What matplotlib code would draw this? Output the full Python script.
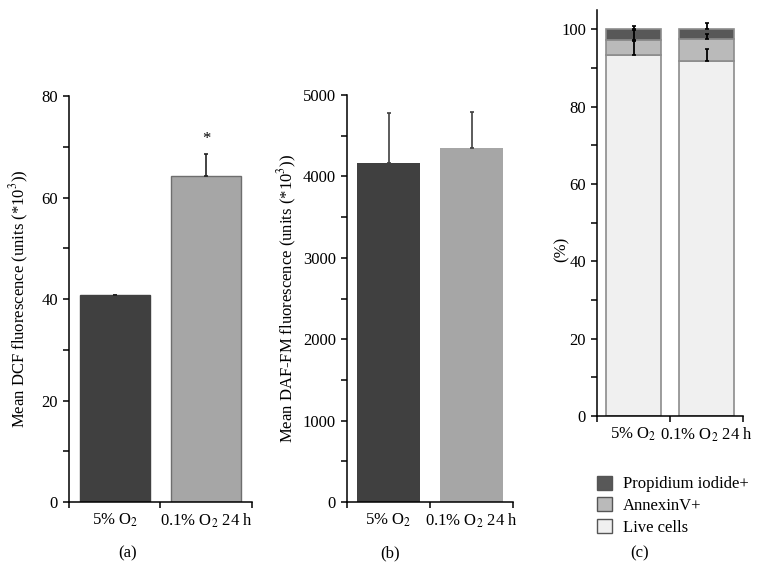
import numpy as np
import matplotlib
matplotlib.use("Agg")
import matplotlib.pyplot as plt
from matplotlib.patches import Patch

plt.rcParams['font.family'] = ['Liberation Serif', 'DejaVu Serif']
plt.rcParams['mathtext.fontset'] = 'stix'
plt.rcParams['font.size'] = 12

# data
groups = ['5% O$_2$', '0.1% O$_2$ 24 h']
dcf = [40.7, 64.2]
dcf_err = [0.15, 4.4]
daf = [4160, 4350]
daf_err = [620, 440]
live = [93.3, 91.7]
annexin = [3.9, 5.9]
pi = [2.8, 2.4]
live_err = [3.6, 3.1]
annexin_err = [2.6, 1.2]
pi_err = [0.9, 1.7]
leg_labels = ['Propidium iodide+', 'AnnexinV+', 'Live cells']

dark = '#404040'
light = '#a6a6a6'
c_pi = '#585858'
c_ann = '#bababa'
c_live = '#f0f0f0'
c_edge = '#8c8c8c'

fig = plt.figure(figsize=(7.59, 5.86), dpi=100)
ax_a = fig.add_axes([0.0909, 0.1433, 0.2411, 0.6928])
ax_b = fig.add_axes([0.4572, 0.1433, 0.2187, 0.6945])
ax_c = fig.add_axes([0.7866, 0.2901, 0.1924, 0.6928])

x = np.array([0.5, 1.5])
w = 0.76


def style(ax, ymax, major, minor):
    ax.set_xlim(0, 2)
    ax.set_ylim(0, ymax)
    ax.spines['top'].set_visible(False)
    ax.spines['right'].set_visible(False)
    for s in ['left', 'bottom']:
        ax.spines[s].set_linewidth(1.1)
    ax.set_yticks(np.arange(0, ymax + 1, major))
    ax.set_yticks(np.arange(minor, ymax, minor), minor=True)
    ax.tick_params(axis='y', which='both', direction='out', length=4, width=1.1, pad=4)
    ax.set_xticks([0, 1, 2])
    ax.set_xticklabels([])
    ax.set_xticks(x, minor=True)
    ax.set_xticklabels(groups, minor=True)
    ax.tick_params(axis='x', which='major', direction='out', length=4, width=1.1)
    ax.tick_params(axis='x', which='minor', length=0, pad=7)


# (a)
ax_a.bar(x, dcf, width=w, color=[dark, light], edgecolor=[dark, '#6e6e6e'], linewidth=1, zorder=2)
ax_a.errorbar(x, dcf, yerr=[[0, 0], dcf_err], fmt='none', ecolor='#222222', elinewidth=1.2,
              capsize=1.5, capthick=1.2, zorder=3)
ax_a.text(x[1], dcf[1] + dcf_err[1] + 3.0, '*', ha='center', va='center', fontsize=12)
style(ax_a, 80, 20, 10)
ax_a.set_ylabel('Mean DCF fluorescence (units (*10$^3$))')
ax_a.yaxis.set_label_coords(-0.205, 0.5)

# (b)
ax_b.bar(x, daf, width=w, color=[dark, light], linewidth=0, zorder=2)
ax_b.errorbar(x, daf, yerr=[[0, 0], daf_err], fmt='none', ecolor='#404040', elinewidth=1.2,
              capsize=1.5, capthick=1.2, zorder=3)
style(ax_b, 5000, 1000, 500)
ax_b.set_ylabel('Mean DAF-FM fluorescence (units (*10$^3$))')
ax_b.yaxis.set_label_coords(-0.29, 0.5)

# (c)
live = np.array(live)
annexin = np.array(annexin)
pi = np.array(pi)
ax_c.bar(x, live, width=w, color=c_live, edgecolor=c_edge, linewidth=1.2, zorder=2)
ax_c.bar(x, annexin, width=w, bottom=live, color=c_ann, edgecolor=c_edge, linewidth=1.2, zorder=2)
ax_c.bar(x, pi, width=w, bottom=live + annexin, color=c_pi, edgecolor=c_edge, linewidth=1.2, zorder=2)
for tops, errs in [(live, live_err), (live + annexin, annexin_err), (live + annexin + pi, pi_err)]:
    ax_c.errorbar(x, tops, yerr=[[0, 0], errs], fmt='none', ecolor='black', elinewidth=1.3,
                  capsize=1.5, capthick=1.2, zorder=3)
style(ax_c, 105, 20, 10)
ax_c.set_yticks(np.arange(0, 101, 20))
ax_c.set_yticks(np.arange(10, 100, 10), minor=True)
ax_c.set_ylabel('(%)')
ax_c.yaxis.set_label_coords(-0.19, 0.41)

handles = [Patch(facecolor=c, edgecolor='#555555', linewidth=1) for c in [c_pi, c_ann, c_live]]
fig.legend(handles, leg_labels, loc='upper left', bbox_to_anchor=(0.786, 0.188),
           frameon=False, handlelength=0.9, handleheight=0.9, handletextpad=0.7,
           labelspacing=0.3, borderpad=0, borderaxespad=0, fontsize=12)

# panel letters
fig.text(128 / 759, 1 - 553 / 586, '(a)', ha='center', va='center')
fig.text(390 / 759, 1 - 553 / 586, '(b)', ha='center', va='center')
fig.text(640 / 759, 1 - 553 / 586, '(c)', ha='center', va='center')

fig.savefig('out.png', dpi=100)
